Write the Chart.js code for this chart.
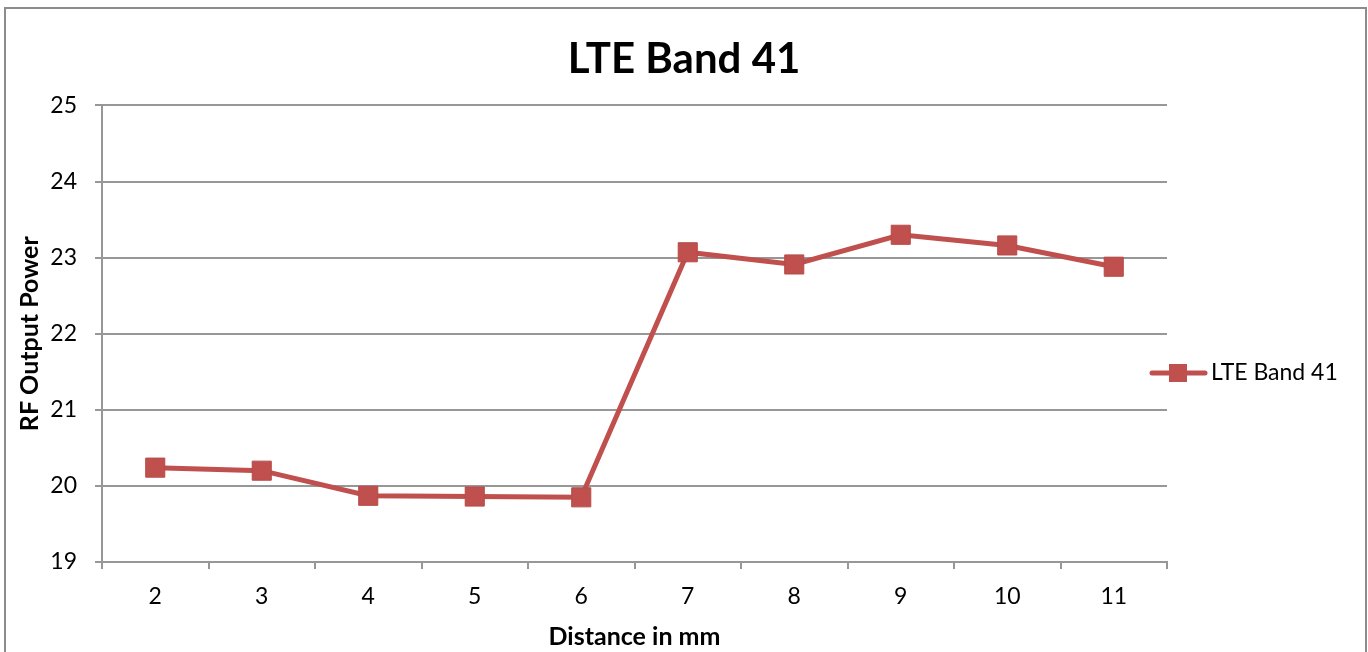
<!DOCTYPE html>
<html>
<head>
<meta charset="utf-8">
<script src="https://cdn.jsdelivr.net/npm/chart.js@4.4.3/dist/chart.umd.min.js"></script>
<style>
  html, body { margin: 0; padding: 0; background: #fff; }
  #wrap { position: relative; width: 1368px; height: 652px; }
</style>
</head>
<body>
<div id="wrap"><canvas id="chart" width="1368" height="652"></canvas></div>
<script>
// chart values
const distances = ['2', '3', '4', '5', '6', '7', '8', '9', '10', '11'];
const band41Power = [20.24, 20.2, 19.87, 19.86, 19.85, 23.07, 22.91, 23.3, 23.16, 22.88];
const seriesName = 'LTE Band 41';
const yMin = 19;
const yMax = 25;

const lineRed = '#C0504D';
const gridGray = '#979797';
const fontFamily = 'Lato, "Open Sans", sans-serif';

// outer frame + excel style legend (line with a square marker)
const decorPlugin = {
    id: 'decor',
    beforeDraw(chart) {
        const ctx = chart.ctx;
        ctx.save();
        ctx.strokeStyle = '#8c8c8c';
        ctx.lineWidth = 2;
        ctx.strokeRect(5, 8, 1361, 700);
        ctx.restore();
    },
    afterDraw(chart) {
        const ctx = chart.ctx;
        const ds = chart.data.datasets[0];
        const y = 373;
        ctx.save();
        ctx.strokeStyle = ds.borderColor;
        ctx.lineWidth = 5;
        ctx.lineCap = 'round';
        ctx.beginPath();
        ctx.moveTo(1152, y);
        ctx.lineTo(1205, y);
        ctx.stroke();
        ctx.fillStyle = ds.pointBackgroundColor;
        ctx.fillRect(1169, y - 9, 18, 18);
        ctx.fillStyle = '#000';
        ctx.font = '23px ' + fontFamily;
        ctx.textBaseline = 'middle';
        ctx.fillText(ds.label, 1211, y);
        ctx.restore();
    }
};

new Chart(document.getElementById('chart'), {
    type: 'line',
    data: {
        labels: distances,
        datasets: [{
            label: seriesName,
            data: band41Power,
            borderColor: lineRed,
            borderWidth: 5,
            tension: 0,
            pointStyle: 'rect',
            pointRadius: 13.5,
            pointHoverRadius: 13.5,
            pointBackgroundColor: lineRed,
            pointBorderColor: '#B54B48',
            pointBorderWidth: 1,
        }],
    },
    options: {
        responsive: false,
        devicePixelRatio: 1,
        animation: false,
        layout: { padding: 0 },
        scales: {
            x: {
                type: 'category',
                offset: true,
                afterFit: (scale) => { scale.height = 90; },
                grid: {
                    offset: true,
                    drawOnChartArea: false,
                    drawTicks: true,
                    tickLength: 7,
                    color: gridGray,
                    lineWidth: 2,
                },
                border: { color: gridGray, width: 2 },
                ticks: {
                    color: '#000',
                    padding: 14,
                    font: { family: fontFamily, size: 23 },
                },
                title: {
                    display: true,
                    text: 'Distance in mm',
                    color: '#000',
                    padding: { top: 0, bottom: 0 },
                    font: { family: fontFamily, size: 25, weight: 'bold' },
                },
            },
            y: {
                min: yMin,
                max: yMax,
                afterFit: (scale) => { scale.width = 102; },
                ticks: {
                    stepSize: 1,
                    color: '#000',
                    padding: 18,
                    font: { family: fontFamily, size: 23 },
                },
                grid: {
                    color: gridGray,
                    lineWidth: 2,
                    tickLength: 7,
                },
                border: { color: gridGray, width: 2 },
                title: {
                    display: true,
                    text: 'RF Output Power',
                    color: '#000',
                    padding: { top: 15, bottom: 0 },
                    font: { family: fontFamily, size: 25, weight: 'bold' },
                },
            },
            // empty right-hand axis that only reserves room for the legend,
            // so the title stays centred on the whole frame
            legendRoom: {
                type: 'linear',
                position: 'right',
                display: true,
                afterFit: (scale) => { scale.width = 201; },
                ticks: { display: false },
                grid: { display: false, drawTicks: false },
                border: { display: false },
            },
        },
        plugins: {
            legend: { display: false },
            tooltip: { enabled: false },
            title: {
                display: true,
                text: 'LTE Band 41',
                color: '#000',
                font: { family: fontFamily, size: 42, weight: 'bold', lineHeight: 1.2 },
                padding: { top: 34, bottom: 21 },
            },
        },
    },
    plugins: [decorPlugin],
});
</script>
</body>
</html>
